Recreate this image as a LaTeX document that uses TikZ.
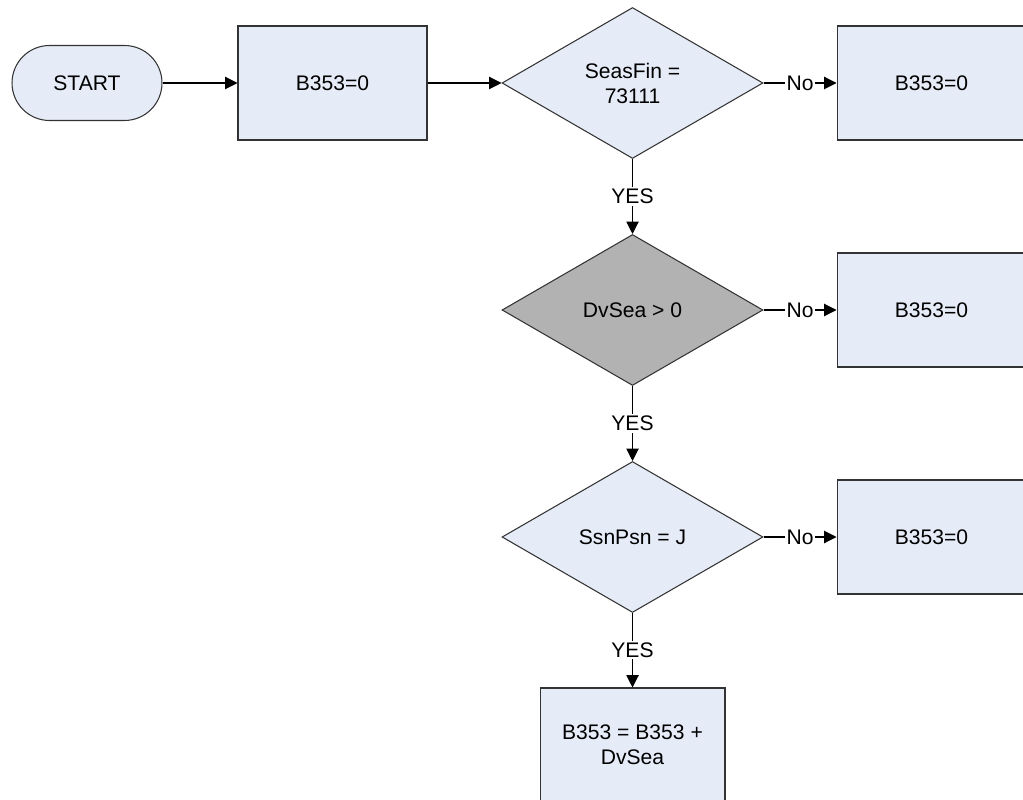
\documentclass[tikz,border=0pt]{standalone}
\usepackage{fontspec}
\setmainfont{Liberation Sans}
\usetikzlibrary{arrows.meta, shapes.geometric}
\definecolor{cfill}{HTML}{E6ECF7}
\definecolor{cgray}{HTML}{B2B2B2}
\definecolor{cline}{HTML}{333333}
\tikzset{
  every picture/.style={font=\fontsize{12}{14.2}\selectfont, line width=0.6pt},
  proc/.style={draw=cline, fill=cfill, minimum width=3.78cm, minimum height=2.28cm, align=center, inner sep=0pt},
  term/.style={draw=cline, fill=cfill, rounded corners=0.75cm, minimum width=3cm, minimum height=1.5cm, inner sep=0pt},
  decision/.style={diamond, draw=cline, fill=#1, minimum width=5.22cm, minimum height=3.02cm, align=center, inner sep=0pt},
  decision/.default=cfill,
  arrow/.style={-{Triangle[length=7pt, width=7pt]}, draw=black},
  lbl/.style={fill=white, inner sep=1pt},
}

\begin{document}
\begin{tikzpicture}[x=0.02cm, y=-0.02cm]
  \useasboundingbox (0,0) rectangle (1023,800);
  \node[term] (start) at (87,83) {START};
  \node[proc] (init) at (332.5,83) {B353=0};
  % the three tests, each with its No branch
  \foreach \i/\y/\txt/\col in {1/83/{SeasFin =\\73111}/cfill, 2/310/{DvSea > 0}/cgray, 3/537/{SsnPsn = J}/cfill} {
    \node[decision=\col] (d\i) at (632.5,\y) {\txt};
    \node[proc] (z\i) at (931.5,\y) {B353=0};
    \draw[arrow] (d\i) -- node[lbl] {No} (z\i);
  }
  \node[proc, minimum width=3.7cm] (sum) at (632.5,745) {B353 = B353 +\\DvSea};
  \draw[arrow] (start) -- (init);
  \draw[arrow] (init) -- (d1);
  \draw[arrow] (d1) -- node[lbl] {YES} (d2);
  \draw[arrow] (d2) -- node[lbl] {YES} (d3);
  \draw[arrow] (d3) -- node[lbl] {YES} (sum);
\end{tikzpicture}
\end{document}
